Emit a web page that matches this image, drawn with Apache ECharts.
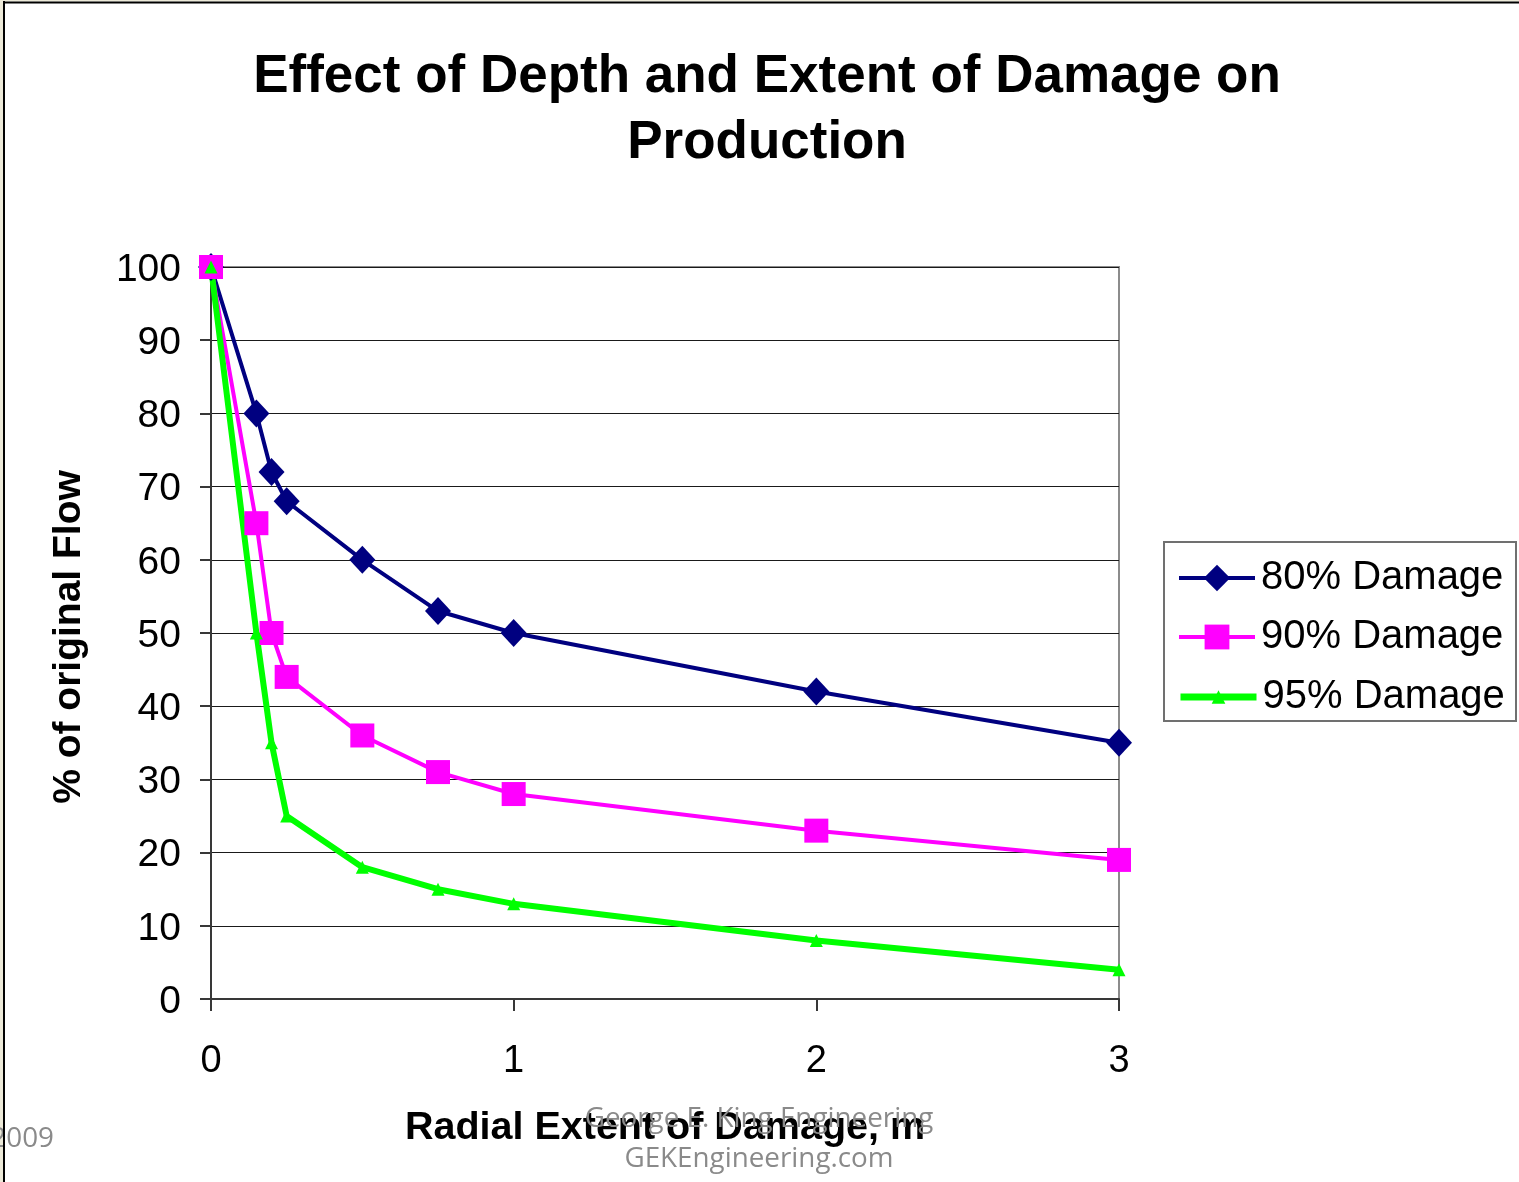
<!DOCTYPE html>
<html>
<head>
<meta charset="utf-8">
<title>Effect of Depth and Extent of Damage on Production</title>
<script src="https://cdn.jsdelivr.net/npm/echarts@6/dist/echarts.min.js"></script>
<style>
  html, body { margin: 0; padding: 0; background: #ffffff; }
  #chart { width: 1519px; height: 1182px; }
</style>
</head>
<body>
<div id="chart"></div>
<script>
// Radial extent of damage (m) at which flow was evaluated
const radialExtent = [0, 0.15, 0.2, 0.25, 0.5, 0.75, 1, 2, 3];

// Percent of original flow for each damage level
const damage80 = [100, 80, 72, 68, 60, 53, 50, 42, 35];
const damage90 = [100, 65, 50, 44, 36, 31, 28, 23, 19];
const damage95 = [100, 50, 35, 25, 18, 15, 13, 8, 4];

const seriesNames = ['80% Damage', '90% Damage', '95% Damage'];

const yTicks = [0, 10, 20, 30, 40, 50, 60, 70, 80, 90, 100];
const xTicks = [0, 1, 2, 3];

const FONT = '"Liberation Sans", Arial, Helvetica, sans-serif';
const MARK_FONT = '"Open Sans", "Noto Sans", sans-serif';

function pairs(xs, ys) {
  return xs.map(function (x, i) { return [x, ys[i]]; });
}

const chart = echarts.init(document.getElementById('chart'), null, { renderer: 'canvas' });

const legendBase = {
  orient: 'vertical',
  left: 1177,
  padding: 0,
  itemWidth: 76,
  selectedMode: false,
  textStyle: {
    fontFamily: FONT,
    fontSize: 40,
    color: '#000000',
    lineHeight: 42,
    padding: [2, 0, 0, 1]
  }
};

const option = {
  backgroundColor: '#ffffff',
  animation: false,
  title: {
    text: 'Effect of Depth and Extent of Damage on\nProduction',
    left: 762,
    top: 39,
    textAlign: 'center',
    textStyle: {
      fontFamily: FONT,
      fontSize: 53,
      fontWeight: 'bold',
      color: '#000000',
      lineHeight: 66
    }
  },
  legend: [
    Object.assign({}, legendBase, {
      data: [seriesNames[0]],
      top: 577 - 21,
      itemHeight: 33,
      lineStyle: { width: 4 }
    }),
    Object.assign({}, legendBase, {
      data: [seriesNames[1]],
      top: 636 - 21,
      itemHeight: 31,
      lineStyle: { width: 4 }
    }),
    Object.assign({}, legendBase, {
      data: [seriesNames[2]],
      top: 696 - 21,
      itemHeight: 17,
      lineStyle: { width: 7 }
    })
  ],
  grid: {
    left: 211,
    top: 267,
    right: 1519 - 1119,
    bottom: 1182 - 999,
    show: true,
    borderColor: '#8c8c8c',
    borderWidth: 2,
    backgroundColor: 'transparent'
  },
  xAxis: {
    type: 'value',
    min: xTicks[0],
    max: xTicks[xTicks.length - 1],
    interval: 1,
    name: 'Radial Extent of Damage, m',
    nameLocation: 'middle',
    nameGap: 106,
    nameTextStyle: {
      fontFamily: FONT,
      fontSize: 39.5,
      fontWeight: 'bold',
      color: '#000000',
      lineHeight: 46
    },
    axisLine: { show: true, lineStyle: { color: '#383838', width: 2 } },
    axisTick: { show: true, inside: false, length: 12, lineStyle: { color: '#383838', width: 2 } },
    axisLabel: {
      margin: 43,
      fontFamily: FONT,
      fontSize: 38,
      color: '#000000',
      lineHeight: 40
    },
    splitLine: { show: false }
  },
  yAxis: {
    type: 'value',
    min: yTicks[0],
    max: yTicks[yTicks.length - 1],
    interval: 10,
    name: '% of original Flow',
    nameLocation: 'middle',
    nameRotate: 90,
    nameGap: 119,
    nameTextStyle: {
      fontFamily: FONT,
      fontSize: 39,
      fontWeight: 'bold',
      color: '#000000',
      lineHeight: 46,
      padding: [0, 8, 0, 0]
    },
    axisLine: { show: true, lineStyle: { color: '#383838', width: 2 } },
    axisTick: { show: true, inside: false, length: 11, lineStyle: { color: '#383838', width: 2 } },
    axisLabel: {
      margin: 30,
      formatter: function (v) { return '{v|' + v + '}'; },
      rich: {
        v: {
          fontFamily: FONT,
          fontSize: 39,
          color: '#000000',
          lineHeight: 40,
          padding: [6, 0, 0, 0]
        }
      }
    },
    splitLine: { show: true, lineStyle: { color: '#1a1a1a', width: 1 } }
  },
  series: [
    {
      name: seriesNames[0],
      type: 'line',
      data: pairs(radialExtent, damage80),
      color: '#000080',
      lineStyle: { color: '#000080', width: 4 },
      itemStyle: { color: '#000080' },
      symbol: 'diamond',
      symbolSize: [26, 28],
      showAllSymbol: true
    },
    {
      name: seriesNames[1],
      type: 'line',
      data: pairs(radialExtent, damage90),
      color: '#ff00ff',
      lineStyle: { color: '#ff00ff', width: 4 },
      itemStyle: { color: '#ff00ff' },
      symbol: 'rect',
      symbolSize: 24,
      showAllSymbol: true
    },
    {
      name: seriesNames[2],
      type: 'line',
      data: pairs(radialExtent, damage95),
      color: '#00ff00',
      lineStyle: { color: '#00ff00', width: 6 },
      itemStyle: { color: '#00ff00' },
      symbol: 'triangle',
      symbolSize: 13,
      showAllSymbol: true
    }
  ],
  graphic: [
    // legend frame
    {
      type: 'rect',
      shape: { x: 1164, y: 542, width: 352, height: 179 },
      style: { fill: 'none', stroke: '#707070', lineWidth: 2 },
      z: 10
    },
    // page margin strip
    {
      type: 'rect',
      shape: { x: 0, y: 0, width: 3, height: 1182 },
      style: { fill: '#ece9d8' },
      z: 15
    },
    {
      type: 'rect',
      shape: { x: 0, y: 0, width: 1519, height: 1.5 },
      style: { fill: '#ece9d8' },
      z: 15
    },
    // footer credits
    {
      type: 'text',
      style: {
        text: 'George E. King Engineering',
        x: 759,
        y: 1119,
        textAlign: 'center',
        textVerticalAlign: 'middle',
        fill: '#8a8a8a',
        font: '27.8px ' + MARK_FONT
      },
      z: 20
    },
    {
      type: 'text',
      style: {
        text: 'GEKEngineering.com',
        x: 759,
        y: 1159,
        textAlign: 'center',
        textVerticalAlign: 'middle',
        fill: '#8a8a8a',
        font: '27.8px ' + MARK_FONT
      },
      z: 20
    },
    {
      type: 'text',
      style: {
        text: '2009',
        x: 54,
        y: 1139,
        textAlign: 'right',
        textVerticalAlign: 'middle',
        fill: '#8a8a8a',
        font: '27.8px ' + MARK_FONT
      },
      z: 20
    },
    // page frame
    {
      type: 'line',
      shape: { x1: 4, y1: 1, x2: 4, y2: 1182 },
      style: { stroke: '#000000', lineWidth: 2 },
      z: 31
    },
    {
      type: 'line',
      shape: { x1: 3, y1: 2.5, x2: 1519, y2: 2.5 },
      style: { stroke: '#000000', lineWidth: 2 },
      z: 31
    }
  ]
};

chart.setOption(option);
</script>
</body>
</html>
